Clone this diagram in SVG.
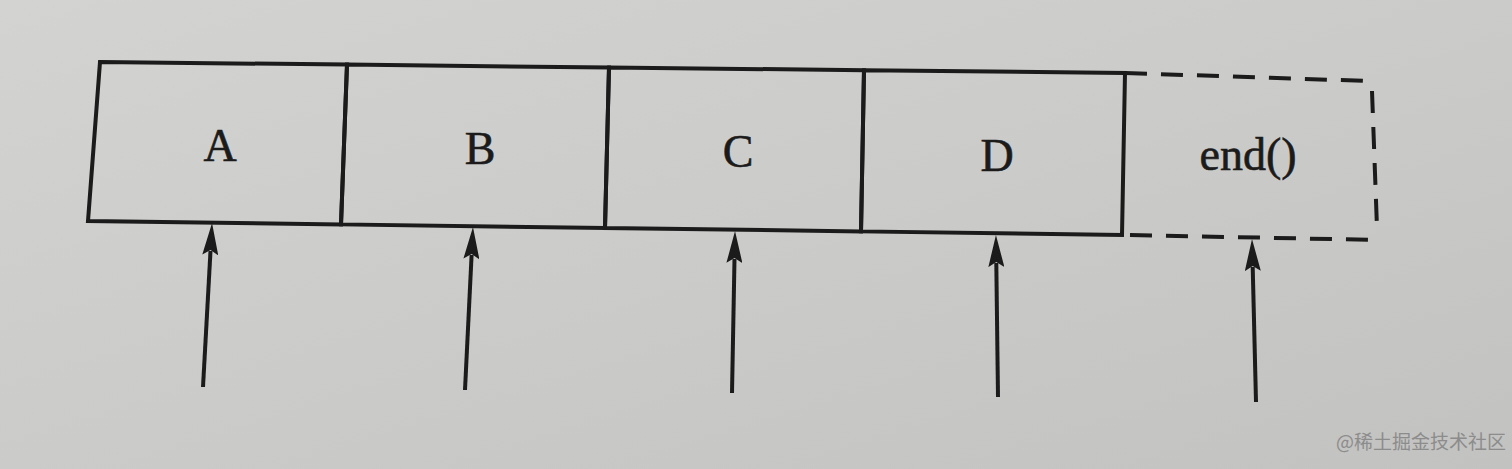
<svg xmlns="http://www.w3.org/2000/svg" width="1512" height="469" viewBox="0 0 1512 469">
<defs>
<linearGradient id="paper" x1="0" y1="0" x2="1" y2="1">
<stop offset="0" stop-color="#d3d3d1"/>
<stop offset="0.5" stop-color="#cbcbc9"/>
<stop offset="1" stop-color="#c2c2c0"/>
</linearGradient>
<marker id="ah" viewBox="0 0 32 16" refX="4" refY="8" markerWidth="32" markerHeight="16" markerUnits="userSpaceOnUse" orient="auto">
<path d="M32 8 L0 0 L5 8 L0 16 Z" fill="#1b1b1b"/>
</marker>
<style>
.cell{fill:none;stroke:#1b1b1b;stroke-width:4;stroke-linejoin:miter}
.dash{fill:none;stroke:#1b1b1b;stroke-width:4;stroke-dasharray:22 14}
.lbl{font-family:"Liberation Serif","Times New Roman",serif;font-size:46px;fill:#1b1b1b;stroke:#1b1b1b;stroke-width:0.6;text-anchor:middle}
.arr{stroke:#1b1b1b;stroke-width:4;fill:none}
.wm{font-family:"Noto Sans CJK SC","Noto Sans",sans-serif;font-size:19px;fill:#8c8c8c}
</style>
</defs>
<rect width="1512" height="469" fill="url(#paper)"/>
<g id="node-A">
<polygon class="cell" points="100,62 347,64.6 341,224.4 88,221"/>
<text class="lbl" x="220" y="161">A</text>
</g>
<g id="node-B">
<polygon class="cell" points="347,64.6 609,67.5 605,228 341,224.4"/>
<text class="lbl" x="480" y="164">B</text>
</g>
<g id="node-C">
<polygon class="cell" points="609,67.5 864,70.2 861,231.4 605,228"/>
<text class="lbl" x="738" y="167">C</text>
</g>
<g id="node-D">
<polygon class="cell" points="864,70.2 1125,73 1122,235 861,231.4"/>
<text class="lbl" x="997" y="171">D</text>
</g>
<g id="node-end">
<path class="dash" d="M1125,73 L1368,81 M1372,91 L1377,228 M1130,235 L1378,240"/>
<text class="lbl" x="1248" y="170">end()</text>
</g>
<g id="connectors">
<line class="arr" x1="203" y1="387" x2="210.5" y2="251" marker-end="url(#ah)"/>
<line class="arr" x1="465" y1="390" x2="471.6" y2="255" marker-end="url(#ah)"/>
<line class="arr" x1="732" y1="393" x2="734.5" y2="259" marker-end="url(#ah)"/>
<line class="arr" x1="998" y1="397" x2="996.3" y2="263" marker-end="url(#ah)"/>
<line class="arr" x1="1256" y1="402" x2="1252.7" y2="267" marker-end="url(#ah)"/>
</g>
<text class="wm" x="1336" y="449">@稀土掘金技术社区</text>
</svg>
